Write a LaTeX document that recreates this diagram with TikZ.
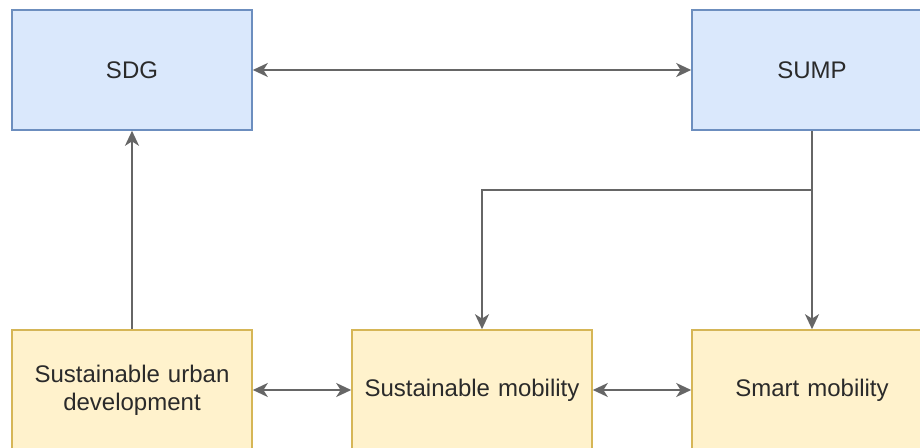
\documentclass[tikz,border=0pt]{standalone}
\usepackage{fontspec}
\setmainfont{Liberation Sans}
\usetikzlibrary{arrows.meta}
\definecolor{bfill}{HTML}{DAE8FC}
\definecolor{bdraw}{HTML}{6C8EBF}
\definecolor{yfill}{HTML}{FFF2CC}
\definecolor{ydraw}{HTML}{D6B656}
\definecolor{edgec}{HTML}{666666}
\definecolor{txtc}{HTML}{2A2A2A}
\begin{document}
\begin{tikzpicture}[x=0.5pt,y=-0.5pt,
  boxbase/.style={draw, line width=0.8pt, minimum width=120pt, minimum height=60pt,
    inner sep=0pt, text width=112pt, align=center, text=txtc,
    font=\fontsize{12pt}{14pt}\selectfont},
  bluebox/.style={boxbase, fill=bfill, draw=bdraw},
  yelbox/.style={boxbase, fill=yfill, draw=ydraw},
  tipx/.tip={Stealth[length=7.5pt,width=7pt,inset=2.2pt]},
  arr/.style={draw=edgec, line width=1pt, arrows={-tipx}},
  arrb/.style={draw=edgec, line width=1pt, arrows={tipx-tipx}}
]
\useasboundingbox (0,0) rectangle (920,448);
\clip (0,0) rectangle (920,448);
\node[bluebox] (sdg) at (132,70) {SDG};
\node[bluebox] (sump) at (812,70) {SUMP};
\node[yelbox] (sud) at (132,390) {Sustainable urban\\development};
\node[yelbox] (sm) at (472,390) {Sustainable mobility};
\node[yelbox] (smart) at (812,390) {Smart mobility};
\coordinate (br) at (812,190);
\draw[arrb] (sdg) -- (sump);
\draw[arr] (sud) -- (sdg);
\draw[arr] (sump) -- (smart);
\draw[arr] (br) -| ([xshift=5pt]sm.north);
\draw[arrb] (sud) -- (sm);
\draw[arrb] (sm) -- (smart);
\end{tikzpicture}
\end{document}
